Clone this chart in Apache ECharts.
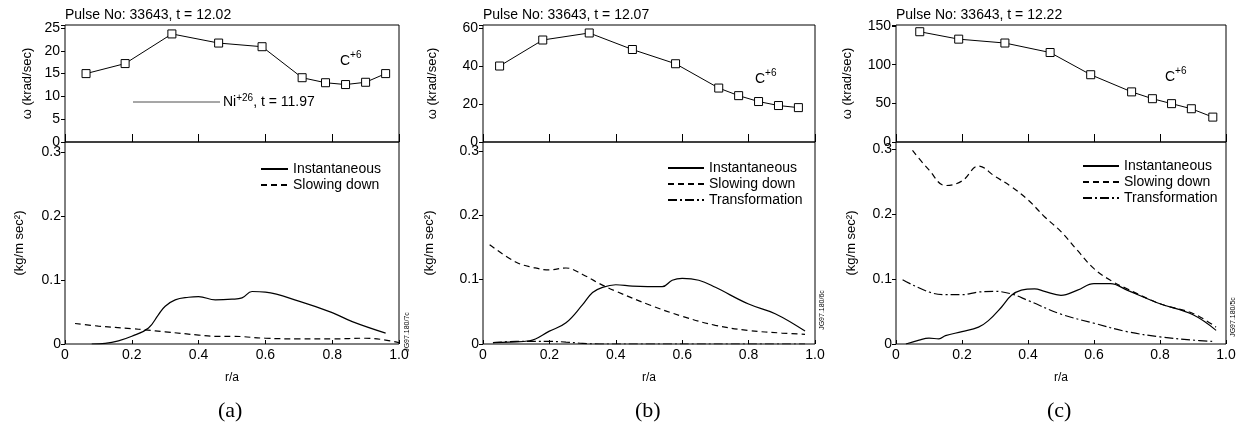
<!DOCTYPE html>
<html><head><meta charset="utf-8">
<script src="https://cdn.jsdelivr.net/npm/echarts@6/dist/echarts.min.js"></script>
<style>html,body{margin:0;padding:0;background:#fff}#c{width:1241px;height:435px}</style>
</head><body><div id="c"></div>
<script>
// ---- data ----
const titles = ['Pulse No: 33643, t = 12.02', 'Pulse No: 33643, t = 12.07', 'Pulse No: 33643, t = 12.22'];
const panelLabels = ['(a)', '(b)', '(c)'];
const xTicks = [0, 0.2, 0.4, 0.6, 0.8, 1.0];
const topMax = [25.66, 61.6, 151.3];
const topInterval = [5, 20, 50];
const botMax = [0.3155, 0.3136, 0.311];

const aTopR = [0.063, 0.18, 0.32, 0.46, 0.59, 0.71, 0.78, 0.84, 0.90, 0.96];
const aTopW = [15, 17.2, 23.7, 21.7, 20.9, 14.1, 13, 12.6, 13.1, 15];
const bTopR = [0.05, 0.18, 0.32, 0.45, 0.58, 0.71, 0.77, 0.83, 0.89, 0.95];
const bTopW = [40, 53.7, 57.4, 48.7, 41.2, 28.4, 24.4, 21.3, 19.2, 18.1];
const cTopR = [0.072, 0.19, 0.33, 0.467, 0.59, 0.714, 0.777, 0.835, 0.895, 0.96];
const cTopW = [142.6, 133, 128, 115.7, 87, 64.8, 56, 49.6, 43, 32.2];

const aInstR = [0.08, 0.12, 0.16, 0.2, 0.25, 0.28, 0.3, 0.33, 0.37, 0.4, 0.45, 0.5, 0.53, 0.56, 0.6, 0.7, 0.8, 0.86, 0.96];
const aInst = [0, 0.001, 0.005, 0.012, 0.025, 0.046, 0.059, 0.069, 0.073, 0.074, 0.069, 0.070, 0.072, 0.082, 0.081, 0.067, 0.049, 0.035, 0.017];
const aSlowR = [0.03, 0.1, 0.2, 0.24, 0.3, 0.4, 0.45, 0.5, 0.6, 0.7, 0.8, 0.9, 0.95, 1.0];
const aSlow = [0.032, 0.028, 0.024, 0.022, 0.019, 0.014, 0.012, 0.012, 0.009, 0.008, 0.008, 0.009, 0.007, 0.002];

const bInstR = [0.03, 0.08, 0.14, 0.2, 0.25, 0.3, 0.33, 0.36, 0.4, 0.45, 0.54, 0.57, 0.6, 0.65, 0.7, 0.8, 0.88, 0.97];
const bInst = [0.002, 0.003, 0.005, 0.02, 0.033, 0.061, 0.08, 0.088, 0.092, 0.09, 0.089, 0.099, 0.102, 0.099, 0.088, 0.062, 0.047, 0.02];
const bSlowR = [0.02, 0.1, 0.15, 0.2, 0.25, 0.3, 0.35, 0.4, 0.5, 0.6, 0.7, 0.8, 0.9, 0.97];
const bSlow = [0.154, 0.127, 0.119, 0.115, 0.118, 0.108, 0.094, 0.082, 0.061, 0.043, 0.029, 0.021, 0.017, 0.015];
const bTrR = [0.03, 0.1, 0.2, 0.25, 0.3, 0.35, 0.5, 0.7, 0.97];
const bTr = [0.002, 0.004, 0.004, 0.003, 0.001, 0, 0, 0, 0];

const cInstR = [0.03, 0.07, 0.1, 0.13, 0.15, 0.2, 0.25, 0.28, 0.32, 0.35, 0.38, 0.42, 0.45, 0.5, 0.55, 0.6, 0.65, 0.7, 0.8, 0.9, 0.97];
const cInst = [0, 0.006, 0.009, 0.008, 0.013, 0.019, 0.026, 0.036, 0.057, 0.075, 0.083, 0.085, 0.081, 0.075, 0.083, 0.093, 0.093, 0.083, 0.062, 0.045, 0.021];
const cSlowR = [0.05, 0.1, 0.15, 0.2, 0.25, 0.3, 0.35, 0.4, 0.45, 0.5, 0.55, 0.6, 0.65, 0.7, 0.8, 0.9, 0.97];
const cSlow = [0.298, 0.268, 0.244, 0.251, 0.274, 0.258, 0.242, 0.222, 0.196, 0.173, 0.144, 0.116, 0.098, 0.085, 0.062, 0.047, 0.026];
const cTrR = [0.02, 0.1, 0.15, 0.2, 0.25, 0.3, 0.35, 0.4, 0.5, 0.6, 0.7, 0.8, 0.9, 0.96];
const cTr = [0.099, 0.08, 0.076, 0.076, 0.08, 0.081, 0.077, 0.067, 0.046, 0.032, 0.019, 0.011, 0.006, 0.004];

// ---- layout ----
const FONT = 'Liberation Sans';
const lefts = [65, 483, 896];
const widths = [334, 332, 330];
const topNameGap = [31, 44, 42];
const botNameGap = [39, 47, 38];
const legendLeft = [260, 667, 1082];
const legendTop = [162, 161, 159];
const legendIconW = [27, 36, 36];

const zip = (r, v) => r.map((x, i) => [x, v[i]]);
const topData = [zip(aTopR, aTopW), zip(bTopR, bTopW), zip(cTopR, cTopW)];
const instData = [zip(aInstR, aInst), zip(bInstR, bInst), zip(cInstR, cInst)];
const slowData = [zip(aSlowR, aSlow), zip(bSlowR, bSlow), zip(cSlowR, cSlow)];
const trData = [null, zip(bTrR, bTr), zip(cTrR, cTr)];

const grid = [], xAxis = [], yAxis = [], series = [], legend = [], title = [], graphic = [];
const fmtX = v => (Math.abs(v) < 1e-9 ? '0' : v.toFixed(1));

for (let p = 0; p < 3; p++) {
  const gt = grid.length;
  grid.push({left: lefts[p], width: widths[p], top: 25, height: 117, show: true, borderColor: '#000', borderWidth: 1, backgroundColor: 'transparent'});
  grid.push({left: lefts[p], width: widths[p], top: 142, height: 202, show: true, borderColor: '#000', borderWidth: 1, backgroundColor: 'transparent'});
  xAxis.push({type: 'value', gridIndex: gt, min: 0, max: 1, interval: 0.2,
    axisLine: {show: false}, splitLine: {show: false},
    axisTick: {show: true, inside: true, length: 8, lineStyle: {color: '#000'}},
    axisLabel: {show: false}});
  xAxis.push({type: 'value', gridIndex: gt + 1, min: 0, max: 1, interval: 0.2,
    axisLine: {show: false}, splitLine: {show: false},
    axisTick: {show: true, inside: true, length: 4, lineStyle: {color: '#000'}},
    axisLabel: {show: true, margin: 4, color: '#000', fontFamily: FONT, fontSize: 14, formatter: fmtX},
    name: 'r/a', nameLocation: 'middle', nameGap: 28, nameTextStyle: {color: '#000', fontFamily: FONT, fontSize: 12}});
  const ti = topInterval[p];
  yAxis.push({type: 'value', gridIndex: gt, min: 0, max: topMax[p], interval: ti,
    axisLine: {show: false}, splitLine: {show: false},
    axisTick: {show: true, inside: false, length: 4, lineStyle: {color: '#000'}},
    axisLabel: {margin: 5, color: '#000', fontFamily: FONT, fontSize: 14,
      formatter: v => (Math.abs(v / ti - Math.round(v / ti)) < 1e-6 ? String(Math.round(v)) : '')},
    name: 'ω (krad/sec)', nameLocation: 'middle', nameGap: topNameGap[p],
    nameTextStyle: {color: '#000', fontFamily: FONT, fontSize: 13}});
  yAxis.push({type: 'value', gridIndex: gt + 1, min: 0, max: botMax[p], interval: 0.1,
    axisLine: {show: false}, splitLine: {show: false},
    axisTick: {show: true, inside: false, length: 4, lineStyle: {color: '#000'}},
    axisLabel: {margin: 4, color: '#000', fontFamily: FONT, fontSize: 14,
      formatter: v => { const k = v / 0.1; return Math.abs(k - Math.round(k)) < 1e-6 ? (Math.round(k) === 0 ? '0' : (Math.round(k) / 10).toFixed(1)) : ''; }},
    name: '(kg/m sec²)', nameLocation: 'middle', nameGap: botNameGap[p],
    nameTextStyle: {color: '#000', fontFamily: FONT, fontSize: 13}});

  series.push({type: 'line', name: 'C+6 ' + p, xAxisIndex: gt, yAxisIndex: gt, data: topData[p],
    symbol: 'rect', symbolSize: 8, showSymbol: true,
    lineStyle: {color: '#000', width: 1}, itemStyle: {color: '#fff', borderColor: '#000', borderWidth: 1},
    silent: true, animation: false});
  series.push({type: 'line', name: 'Instantaneous', xAxisIndex: gt + 1, yAxisIndex: gt + 1, data: instData[p],
    smooth: 0.4, symbol: 'none', lineStyle: {color: '#000', width: 1.2, type: 'solid'}, itemStyle: {color: '#000'}, animation: false});
  series.push({type: 'line', name: 'Slowing down', xAxisIndex: gt + 1, yAxisIndex: gt + 1, data: slowData[p],
    smooth: 0.4, symbol: 'none', lineStyle: {color: '#000', width: 1.2, type: [6, 4]}, itemStyle: {color: '#000'}, animation: false});
  const names = ['Instantaneous', 'Slowing down'];
  if (trData[p]) {
    series.push({type: 'line', name: 'Transformation', xAxisIndex: gt + 1, yAxisIndex: gt + 1, data: trData[p],
      smooth: 0.4, symbol: 'none', lineStyle: {color: '#000', width: 1.2, type: [9, 3, 2, 3]}, itemStyle: {color: '#000'}, animation: false});
    names.push('Transformation');
  }
  legend.push({data: names, orient: 'vertical', left: legendLeft[p], top: legendTop[p], padding: 0,
    itemWidth: legendIconW[p], itemHeight: 14, itemGap: 2, selectedMode: false,
    itemStyle: {opacity: 0, borderWidth: 0},
    textStyle: {color: '#000', fontFamily: FONT, fontSize: 14}});
  title.push({text: titles[p], left: lefts[p], top: 8, padding: 0,
    textStyle: {color: '#000', fontFamily: FONT, fontSize: 14, fontWeight: 'normal'}});
  graphic.push({type: 'text', left: lefts[p] + widths[p] / 2 - 14, top: 400,
    style: {text: panelLabels[p], fill: '#000', font: '22px "Liberation Serif"'}});
}

// annotations
const cPos = [[340, 50], [755, 68], [1165, 66]];
cPos.forEach(([x, y]) => graphic.push({type: 'text', left: x, top: y,
  style: {text: '{b|C}{s|+6}', fill: '#000', rich: {b: {fontSize: 14, fontFamily: FONT, fill: '#000', verticalAlign: 'bottom'}, s: {fontSize: 10, fontFamily: FONT, fill: '#000', verticalAlign: 'top', padding: [0, 0, 8, 0]}}}}));
graphic.push({type: 'line', shape: {x1: 133, y1: 102, x2: 220, y2: 102}, style: {stroke: '#222', lineWidth: 0.8}});
graphic.push({type: 'text', left: 223, top: 93,
  style: {text: '{b|Ni}{s|+26}{b|, t = 11.97}', rich: {b: {fontSize: 14, fontFamily: FONT, fill: '#000'}, s: {fontSize: 10, fontFamily: FONT, fill: '#000', padding: [0, 0, 8, 0]}}}});
const jg = [['JG97.180/7c', 407, 332], ['JG97.180/6c', 822, 310], ['JG97.180/5c', 1233, 317]];
jg.forEach(([t, x, y]) => graphic.push({type: 'text', x: x, y: y, rotation: Math.PI / 2,
  style: {text: t, fill: '#000', font: '7px "Liberation Sans"', align: 'center', verticalAlign: 'middle'}}));

const chart = echarts.init(document.getElementById('c'), null, {renderer: 'canvas'});
chart.setOption({backgroundColor: '#fff', animation: false, title, grid, xAxis, yAxis, series, legend, graphic});
</script></body></html>
